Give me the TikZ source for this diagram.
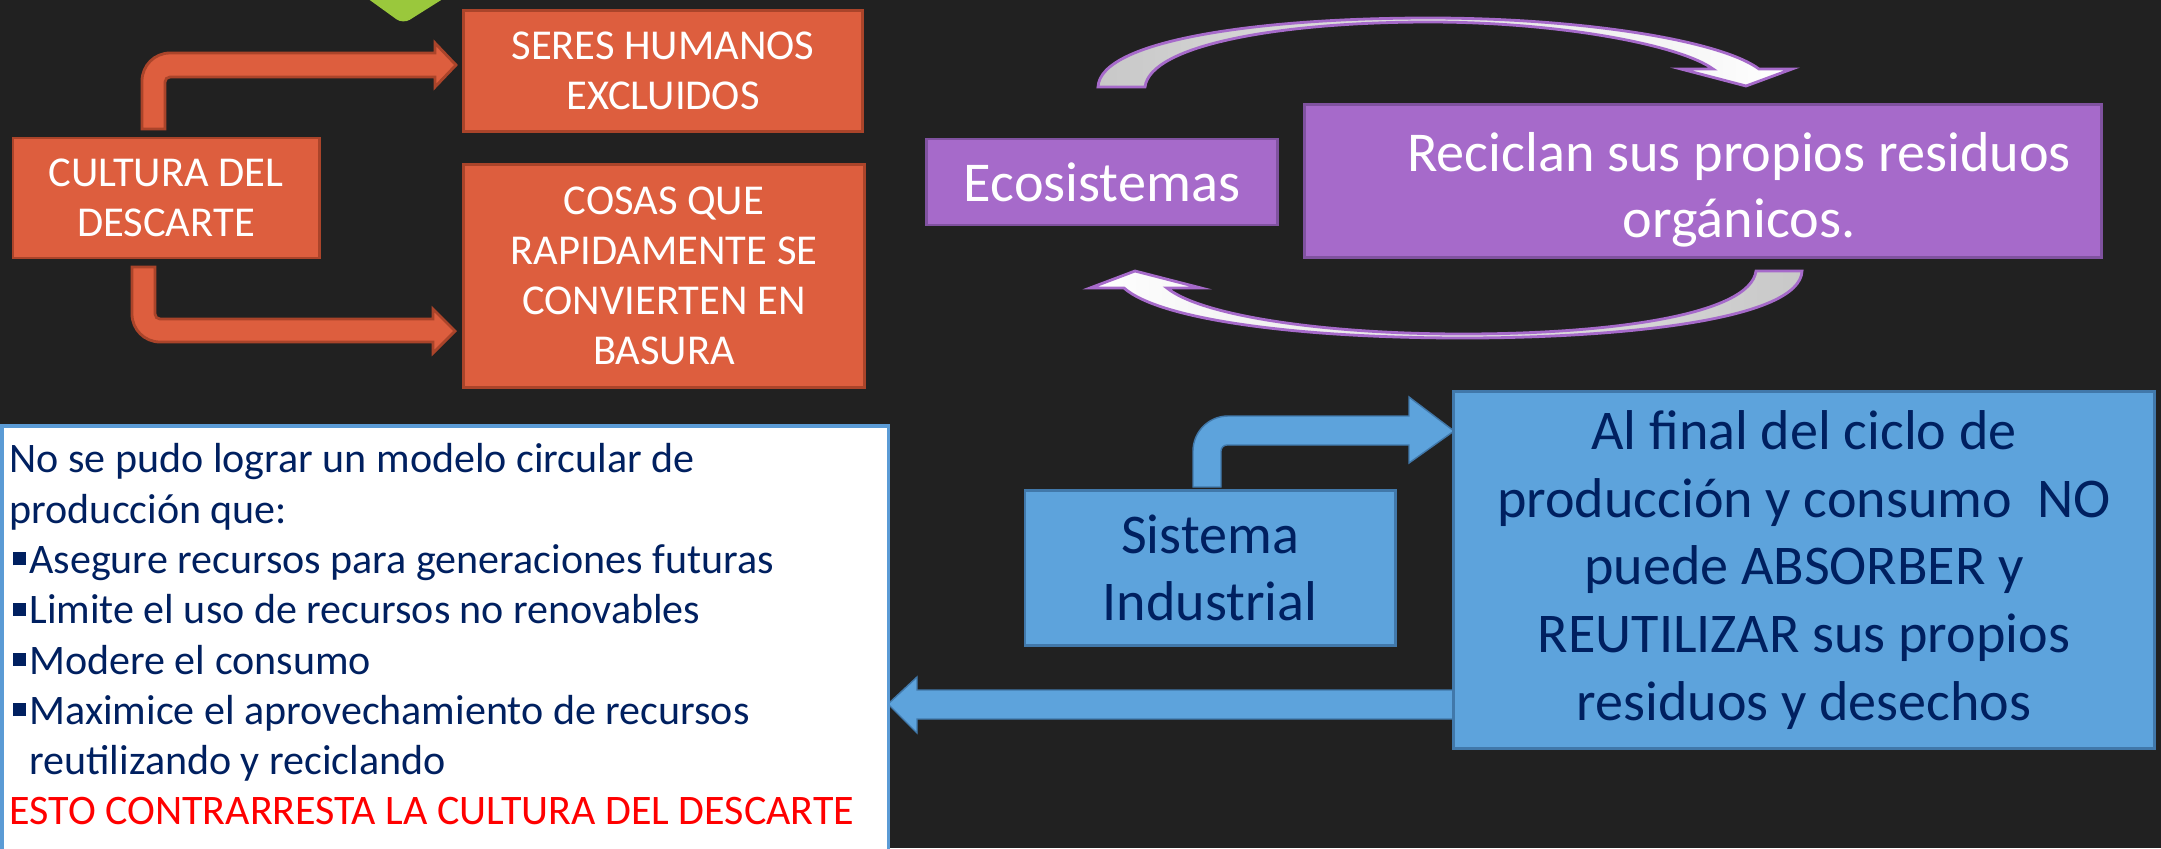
\documentclass[tikz,border=0pt]{standalone}
\usepackage{fontspec}
\setmainfont{Carlito}
\usepackage{xcolor}
\definecolor{fondo}{RGB}{33,33,33}
\definecolor{naranja}{RGB}{221,94,62}
\definecolor{bordenaranja}{RGB}{170,68,42}
\definecolor{morado}{RGB}{166,106,202}
\definecolor{bordemorado}{RGB}{128,82,160}
\definecolor{azul}{RGB}{93,163,220}
\definecolor{bordeazul}{RGB}{65,120,170}
\definecolor{textoazul}{RGB}{0,32,96}
\definecolor{bordeblanco}{RGB}{91,155,213}
\definecolor{rojo}{RGB}{255,0,0}
\definecolor{verde}{RGB}{154,200,60}
\definecolor{gris}{RGB}{200,200,200}
\newcommand{\vineta}{\hspace*{1pt}\raisebox{2.3pt}{\rule{3.7pt}{3.7pt}}\hspace{0.9pt}}
\tikzset{
  caja/.style={draw, line width=0.8pt, inner sep=0pt, align=center},
  naranjabox/.style={caja, fill=naranja, draw=bordenaranja, text=white, font=\fontsize{12.1}{14.2}\selectfont},
  moradobox/.style={caja, fill=morado, draw=bordemorado, text=white, font=\fontsize{16}{18.8}\selectfont},
  azulbox/.style={caja, fill=azul, draw=bordeazul, text=textoazul, font=\fontsize{15.95}{19.2}\selectfont},
  notabox/.style={draw=bordeblanco, fill=white, line width=1pt, inner sep=0pt},
  flechanaranja/.style={fill=naranja, draw=bordenaranja, line width=0.8pt},
  flechaazul/.style={fill=azul, draw=bordeazul, line width=0.4pt},
  flechacurva/.style={draw=morado, line width=0.8pt}
}

\begin{document}
\begin{tikzpicture}[x=0.01cm, y=-0.01cm]
  \path[use as bounding box] (0,0) rectangle (2161,848);
  \clip (0,0) rectangle (2161,848);
  \fill[fondo] (0,0) rectangle (2161,848);
  % hoja verde arriba
  \fill[verde, rounded corners=0.08cm] (342,-20) -- (403,24) -- (473,-20) -- cycle;

  % flechas naranjas
  \draw[flechanaranja] (142,129) -- (142,81) .. controls (142,65.5) and (154.5,53) .. (170,53)
    -- (435,53) -- (435,43) -- (456,65) -- (435,87) -- (435,77) -- (170,77)
    .. controls (167.2,77) and (165,79.2) .. (165,82) -- (165,129) -- cycle;
  \draw[flechanaranja] (132,267) -- (132,314) .. controls (132,329.5) and (144.5,342) .. (160,342)
    -- (433,342) -- (433,353) -- (455,331) -- (433,309) -- (433,319) -- (160,319)
    .. controls (157.2,319) and (155,316.8) .. (155,314) -- (155,267) -- cycle;

  % flechas curvas
  \draw[flechacurva, left color=gris, right color=white]
    (1098,87) .. controls (1100,40) and (1260,18) .. (1429,18)
    .. controls (1580,18) and (1720,40) .. (1759,69)
    -- (1792,69) -- (1746,86) -- (1681,69) -- (1713,69)
    .. controls (1680,45) and (1560,22) .. (1429,22)
    .. controls (1280,22) and (1150,45) .. (1145,87) -- cycle;
  \draw[flechacurva, left color=white, right color=gris]
    (1802,271) .. controls (1800,320) and (1620,338) .. (1463,338)
    .. controls (1300,338) and (1160,320) .. (1124,288)
    -- (1090,288) -- (1135,271) -- (1201,288) -- (1167,288)
    .. controls (1200,315) and (1320,334) .. (1463,334)
    .. controls (1610,334) and (1750,315) .. (1756,271) -- cycle;

  % flechas azules
  \draw[flechaazul] (1193,487) -- (1193,451) .. controls (1193,431.7) and (1208.7,416) .. (1228,416)
    -- (1409,416) -- (1409,397) -- (1454,431) -- (1409,463) -- (1409,445) -- (1227,445)
    .. controls (1223.7,445) and (1221,447.7) .. (1221,451) -- (1221,487) -- cycle;
  \draw[flechaazul] (1456,690) -- (917,690) -- (917,677) -- (888,704) -- (917,733) -- (917,719) -- (1456,719);

  % cajas
  \node[naranjabox, minimum width=3.06cm, minimum height=1.2cm] (cultura) at (166,198) {CULTURA DEL\\DESCARTE};
  \node[naranjabox, minimum width=3.98cm, minimum height=1.21cm] (seres) at (663,71) {SERES HUMANOS\\EXCLUIDOS};
  \node[naranjabox, minimum width=4.0cm, minimum height=2.23cm] (cosas) at (664,276) {COSAS QUE\\RAPIDAMENTE SE\\CONVIERTEN EN\\BASURA};
  \node[moradobox, minimum width=3.51cm, minimum height=0.86cm] (eco) at (1102,182) {Ecosistemas};
  \node[moradobox, minimum width=7.97cm, minimum height=1.53cm] (recicla) at (1703,181)
    {\hspace*{0.72cm}\rule{0pt}{1em}Reciclan sus propios residuos\\\hspace*{0.72cm}orgánicos.};
  \node[azulbox, minimum width=3.7cm, minimum height=1.55cm] (sistema) at (1210,568) {Sistema\\Industrial};
  \node[azulbox, minimum width=7.0cm, minimum height=3.57cm] (final) at (1804,570) {Al final del ciclo de\\producción y consumo\ \ NO\\puede ABSORBER y\\REUTILIZAR sus propios\\residuos y desechos};

  % nota blanca
  \node[notabox, anchor=north west, minimum width=8.86cm, minimum height=4.6cm] (nota) at (0,424) {};
  \node[anchor=north west, align=left, inner sep=0pt, text=textoazul, font=\fontsize{11.95}{14.3}\selectfont] (texto) at (9,443)
    {No se pudo lograr un modelo circular de\\
     producción que:\\
     \vineta Asegure recursos para generaciones futuras\\
     \vineta Limite el uso de recursos no renovables\\
     \vineta Modere el consumo\\
     \vineta Maximice el aprovechamiento de recursos\\
     \hspace*{5.6pt}reutilizando y reciclando\\
     \textcolor{rojo}{ESTO CONTRARRESTA LA CULTURA DEL DESCARTE}};
\end{tikzpicture}
\end{document}
